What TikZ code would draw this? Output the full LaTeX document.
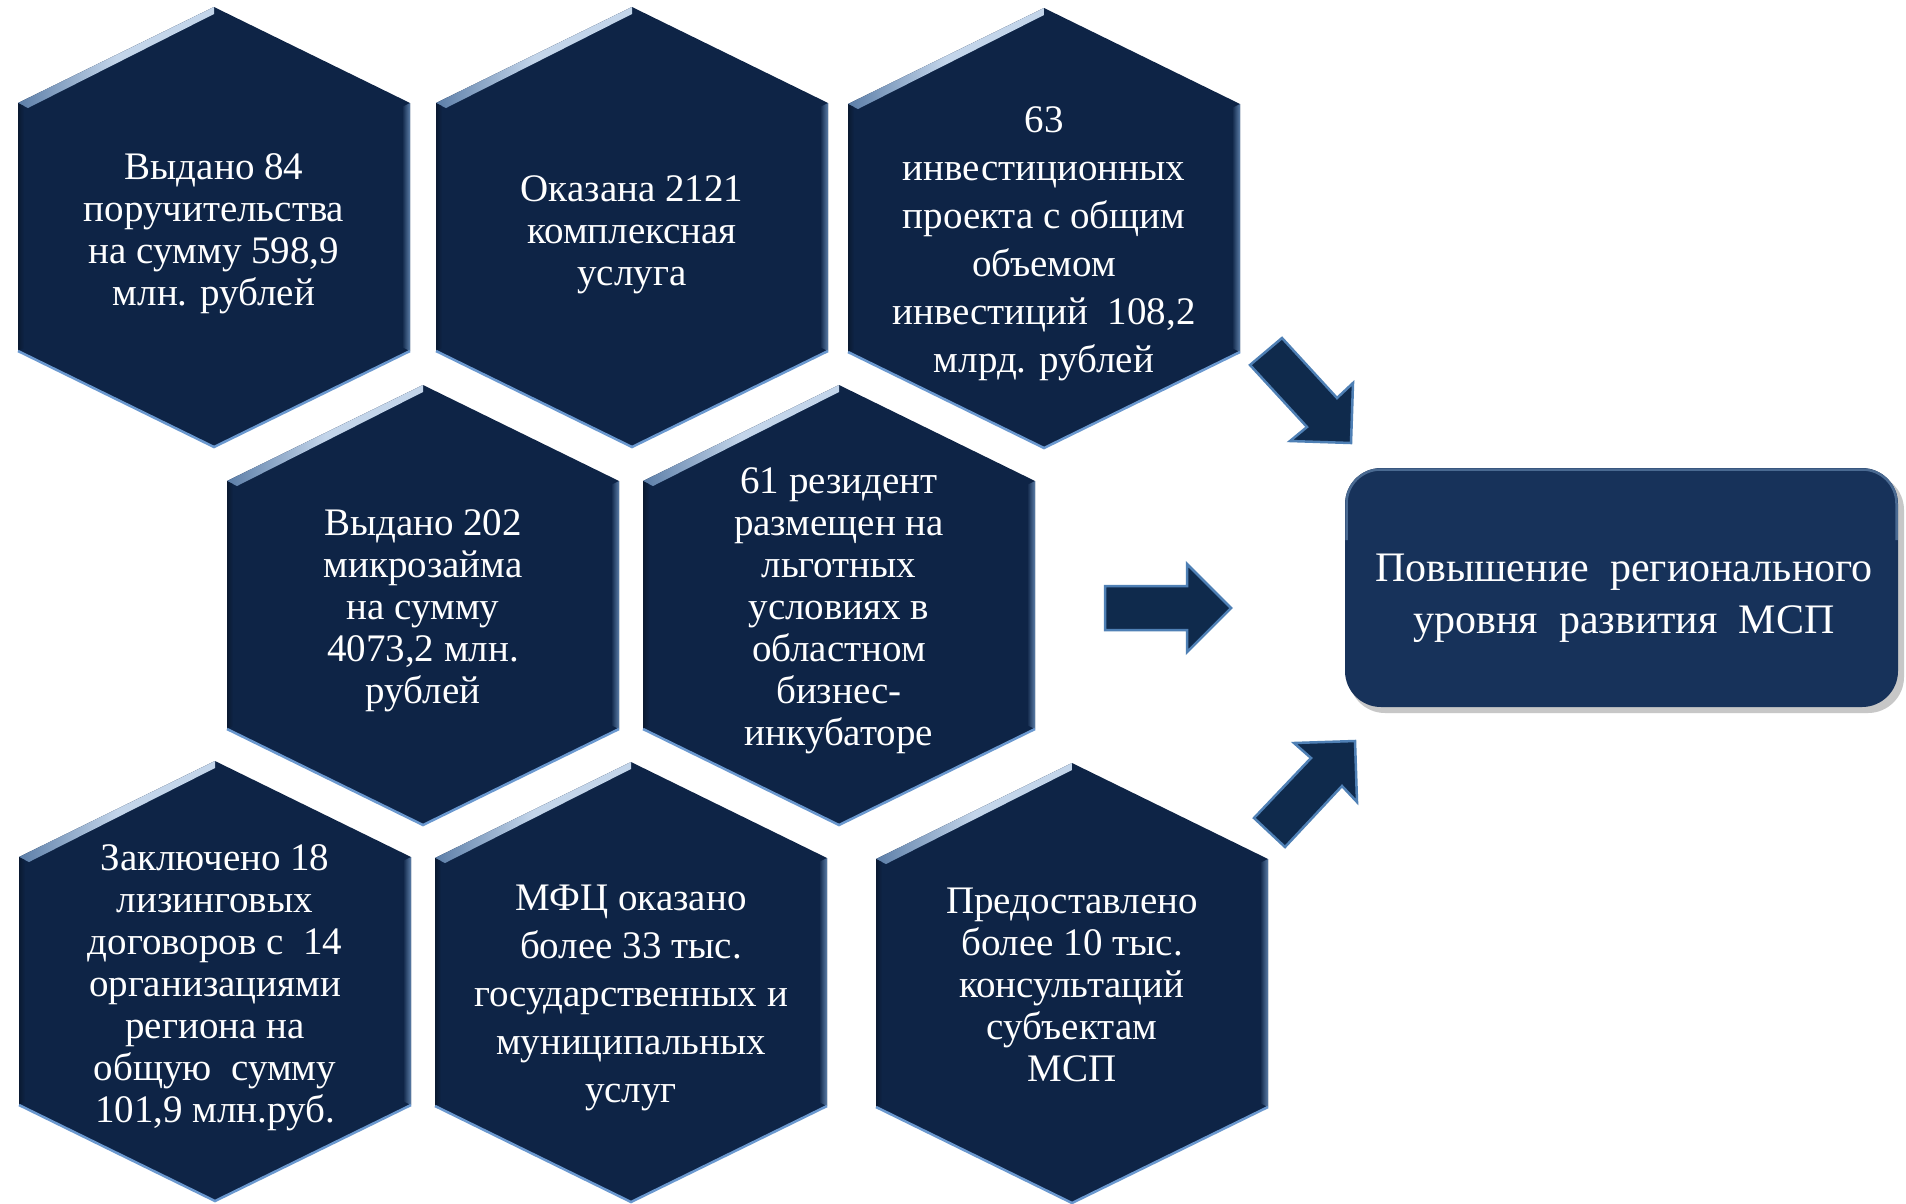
\documentclass[tikz,border=0pt]{standalone}
\usepackage{fontspec}
\setmainfont{Liberation Serif}
\definecolor{hexfill}{HTML}{0E2446}
\definecolor{boxfill}{HTML}{17325A}
\definecolor{arrfill}{HTML}{0F2A4C}
\definecolor{arrline}{HTML}{4F80B5}
\definecolor{hlight}{HTML}{C3D5EA}
\definecolor{hmid}{HTML}{5C7EA8}
\definecolor{hbot}{HTML}{6A98CF}
\definecolor{boxedge}{HTML}{4A6A92}
\tikzset{
  hexshape/.style={fill=hexfill},
  hextext/.style={text=white, align=center, inner sep=0pt, font={\fontsize{39}{42}\selectfont}},
  hextextwide/.style={hextext, font={\fontsize{39}{48}\selectfont}},
  blockarrow/.style={fill=arrfill, draw=arrline, line width=2.5pt, line join=miter},
  goalbox/.style={text=white, align=center, font={\fontsize{42}{52}\selectfont}, inner sep=0pt}
}
% #1 name, #2 cx, #3 top, #4 text style, #5 text y, #6 text
\newcommand\hexcell[6]{%
  \begin{scope}[shift={(#2,#3)}]
    \fill[hexshape] (0,0) -- (196,96) -- (196,344) -- (0,440) -- (-196,344) -- (-196,96) -- cycle;
    \shade[left color=hmid, right color=hlight, middle color=hlight]
      (-196,96) -- (0,0) -- (0,7) -- (-186,101) -- cycle;
    \shade[left color=hexfill, right color=hmid] (188,100) -- (196,96) -- (196,344) -- (188,340) -- cycle;
    \shade[left color=hexfill!70!black, right color=hexfill] (-196,96) -- (-190,99) -- (-190,341) -- (-196,344) -- cycle;
    \draw[hbot, line width=2.5pt] (-196,344) -- (0,440) -- (196,344);
    \node[#4] (#1) at (0,#5) {#6};
  \end{scope}%
}
\begin{document}
\begin{tikzpicture}[x=1pt, y=-1pt]
\useasboundingbox (0,0) rectangle (1906,1203);
\fill[white] (0,0) rectangle (1906,1203);

% top row
\hexcell{h1}{214}{7}{hextext}{227}{Выдано 84\\поручительства\\на сумму 598,9\\млн. рублей}
\hexcell{h2}{632}{7}{hextext}{228}{Оказана 2121\\комплексная\\услуга}
\hexcell{h3}{1044}{8}{hextextwide}{236}{63\\инвестиционных\\проекта с общим\\объемом\\инвестиций\ \ 108,2\\млрд. рублей}
% middle row
\hexcell{h4}{423}{385}{hextext}{226}{Выдано 202\\микрозайма\\на сумму\\4073,2 млн.\\рублей}
\hexcell{h5}{839}{385}{hextext}{226}{61 резидент\\размещен на\\льготных\\условиях в\\областном\\бизнес-\\инкубаторе}
% bottom row
\hexcell{h7}{215}{761}{hextext}{227}{Заключено 18\\лизинговых\\договоров с\ \ 14\\организациями\\региона на\\общую\ \ сумму\\101,9 млн.руб.}
\hexcell{h8}{631}{762}{hextextwide}{236}{МФЦ оказано\\более 33 тыс.\\государственных и\\муниципальных\\услуг}
\hexcell{h9}{1072}{763}{hextext}{222}{Предоставлено\\более 10 тыс.\\консультаций\\субъектам\\МСП}

% goal box
\fill[black!22, rounded corners=36pt] (1349,474) rectangle (1904,713);
\fill[boxfill, rounded corners=36pt] (1345,468) rectangle (1898,707);
\draw[boxedge, line width=2.5pt, rounded corners=34pt] (1346.5,540) -- (1346.5,469.5) -- (1896.5,469.5) -- (1896.5,540);
\node[goalbox] (goal) at (1624,598) {Повышение\ \ регионального\\уровня\ \ развития\ \ МСП};

% block arrows
\draw[blockarrow] (1250,365) -- (1282,338) -- (1337,398) -- (1353,383) -- (1351,443) -- (1290,441) -- (1307,427) -- cycle;
\draw[blockarrow] (1105,586) -- (1187,586) -- (1187,564) -- (1231,608) -- (1187,652) -- (1187,630) -- (1105,630) -- cycle;
\draw[blockarrow] (1254,818) -- (1311,758) -- (1294,743) -- (1355,741) -- (1357,802) -- (1342,786) -- (1285,847) -- cycle;
\end{tikzpicture}
\end{document}
